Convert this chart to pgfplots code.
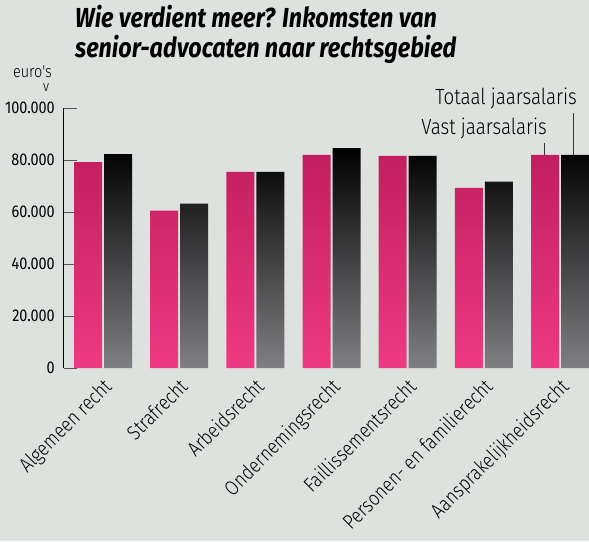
\documentclass[border=0pt]{standalone}
\usepackage{fontspec}
\setmainfont{Fira Sans}[FakeStretch=0.85]
\newfontfamily\lightfont{Fira Sans Light}[FakeStretch=0.85]
\usepackage{pgfplots}
\pgfplotsset{compat=1.18}
\definecolor{bg}{RGB}{222,226,222}
\definecolor{pinktop}{RGB}{194,30,96}
\definecolor{pinkbot}{RGB}{238,58,130}
\definecolor{blacktop}{RGB}{0,0,0}
\definecolor{blackbot}{RGB}{128,128,132}
\begin{document}
\begin{tikzpicture}
\fill[bg] (-64pt,-173pt) rectangle (525pt,368pt);
\path[use as bounding box] (-64pt,-173pt) rectangle (525pt,368pt);
\begin{axis}[
  at={(0pt,0pt)}, anchor=south west,
  scale only axis, width=525pt, height=260pt,
  xmin=-0.512, xmax=6.38, ymin=0, ymax=100000,
  enlargelimits=false, clip=false,
  axis lines=left,
  axis line style={-, black, line width=1pt},
  x axis line style={draw=none},
  ybar=2pt, bar width=28pt,
  xtick={0,...,6},
  xticklabels={Algemeen recht,Strafrecht,Arbeidsrecht,Ondernemingsrecht,Faillissementsrecht,Personen- en familierecht,Aansprakelijkheidsrecht},
  xtick style={draw=none},
  xticklabel style={xshift=-1pt, yshift=-9pt, rotate=45, anchor=north east, inner sep=0pt, font=\lightfont\fontsize{20.5}{20.5}\selectfont},
  ytick={0,20000,40000,60000,80000,100000},
  yticklabels={0,20.000,40.000,60.000,80.000,100.000},
  ytick pos=left, tick align=inside,
  major tick length=13pt,
  ytick style={draw=black!65, line width=1pt},
  yticklabel style={inner sep=0pt, xshift=-9pt, font=\fontsize{17}{17}\selectfont},
  scaled y ticks=false,
]
\addplot[draw=none, top color=pinktop, bottom color=pinkbot] coordinates
  {(0,79200) (1,60500) (2,75400) (3,82000) (4,81600) (5,69300) (6,82000)};
\addplot[draw=none, top color=blacktop, bottom color=blackbot] coordinates
  {(0,82300) (1,63200) (2,75400) (3,84600) (4,81600) (5,71700) (6,82000)};
\end{axis}
% title
\node[anchor=base west, inner sep=0pt, font=\fontsize{27.5}{27.5}\selectfont\bfseries\itshape] at (11pt,340pt) {Wie verdient meer? Inkomsten van};
\node[anchor=base west, inner sep=0pt, font=\fontsize{27.5}{27.5}\selectfont\bfseries\itshape] at (11pt,310pt) {senior-advocaten naar rechtsgebied};
% unit
\node[anchor=base east, inner sep=0pt, font=\lightfont\fontsize{17}{17}\selectfont] at (-12pt,290pt) {euro's};
\node[anchor=center, inner sep=0pt, font=\lightfont\fontsize{15}{15}\selectfont] at (-18pt,280pt) {v};
% series labels
\node[anchor=base east, inner sep=0pt, font=\lightfont\fontsize{22}{22}\selectfont] at (513pt,263pt) {Totaal jaarsalaris};
\node[anchor=base east, inner sep=0pt, font=\lightfont\fontsize{22}{22}\selectfont] at (483pt,233pt) {Vast jaarsalaris};
\draw[black!80, line width=1pt] (480pt,225pt) -- (480pt,213pt);
\draw[black!80, line width=1pt] (509pt,255pt) -- (509pt,213pt);
\end{tikzpicture}
\end{document}
